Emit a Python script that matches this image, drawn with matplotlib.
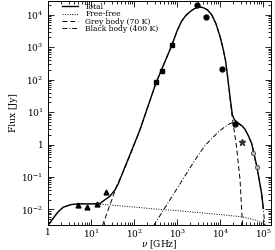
import numpy as np
import matplotlib
matplotlib.use("Agg")
import matplotlib.pyplot as plt
from matplotlib.ticker import LogLocator, FuncFormatter, NullFormatter

plt.rcParams['font.family'] = ['DejaVu Serif']
plt.rcParams['mathtext.fontset'] = 'dejavuserif'

# model curves, as log10(nu/GHz), log10(F/Jy)
total_lognu = [0.0, 0.116, 0.233, 0.35, 0.54, 0.7, 1.0, 1.2, 1.28, 1.43, 1.55, 1.63, 1.78, 1.94,
               2.13, 2.505, 2.87, 3.0, 3.1, 3.2, 3.3, 3.4, 3.5, 3.6, 3.7, 3.8, 3.9, 4.0, 4.07,
               4.12, 4.16, 4.2, 4.23, 4.28, 4.33, 4.40, 4.50, 4.57, 4.65, 4.73, 4.85, 4.96, 5.0]
total_logF = [-2.48, -2.27, -2.07, -1.93, -1.85, -1.83, -1.83, -1.82, -1.74, -1.6, -1.4, -1.2,
              -0.7, -0.18, 0.45, 1.9, 3.05, 3.52, 3.80, 3.98, 4.10, 4.19, 4.24, 4.22, 4.15, 4.0,
              3.72, 3.3, 2.92, 2.6, 2.2, 1.75, 1.42, 0.92, 0.76, 0.68, 0.58, 0.48, 0.28, 0.03,
              -0.68, -1.5, -1.97]

ff_lognu = [0.0, 0.116, 0.233, 0.35, 0.54, 0.7, 1.0, 1.5, 2.0, 2.5, 3.0, 3.5, 4.0, 4.5, 4.8, 5.0, 5.05]
ff_logF = [-2.48, -2.27, -2.07, -1.93, -1.85, -1.83, -1.83, -1.87, -1.93, -1.99, -2.04, -2.1,
           -2.16, -2.23, -2.32, -2.43, -2.5]

grey_lognu = [1.26, 1.5, 1.59, 1.78, 1.94, 2.13, 2.505, 2.87, 3.0, 3.1, 3.2, 3.3, 3.4, 3.5, 3.6,
              3.7, 3.8, 3.9, 4.0, 4.07, 4.12, 4.16, 4.2, 4.23, 4.28, 4.32, 4.38, 4.46, 4.50, 4.52]
grey_logF = [-2.5, -1.62, -1.28, -0.73, -0.2, 0.44, 1.9, 3.05, 3.52, 3.80, 3.98, 4.10, 4.19,
             4.24, 4.22, 4.15, 4.0, 3.72, 3.3, 2.92, 2.6, 2.2, 1.75, 1.38, 0.82, 0.45, -0.1,
             -1.1, -2.1, -2.5]

bb_lognu = [2.45, 2.95, 3.41, 3.64, 3.80, 3.95, 4.11, 4.22, 4.30, 4.40, 4.50, 4.57, 4.65, 4.73,
            4.85, 4.96, 5.0, 5.04]
bb_logF = [-2.5, -1.45, -0.48, -0.04, 0.18, 0.38, 0.55, 0.64, 0.68, 0.66, 0.57, 0.47, 0.27,
           0.02, -0.7, -1.52, -2.0, -2.5]

# observed points
tri_nu = [4.8, 7.8, 13.8, 22.0]
tri_F = [0.0135, 0.012, 0.0145, 0.034]
sq_nu = [320, 434, 741]
sq_F = [87, 190, 1170]
circ_nu = [2830, 4580, 10800, 21900]
circ_F = [19400, 8500, 215, 4.4]
star_nu = [32800]
star_F = [1.16]
open_nu = [58500, 72500]
open_F = [0.56, 0.2]


def pw(a):
    return np.power(10.0, np.array(a))


fig = plt.figure(figsize=(2.75, 2.5), dpi=100)
ax = fig.add_axes([0.1756, 0.1, 0.8094, 0.897])

ax.plot(pw(total_lognu), pw(total_logF), color='black', lw=1.0, ls='-', label='Total')
ax.plot(pw(ff_lognu), pw(ff_logF), color='black', lw=0.7, ls=(0, (1, 1.5)), label='Free-free')
ax.plot(pw(grey_lognu), pw(grey_logF), color='black', lw=0.7, ls=(0, (5, 3)), label='Grey body (70 K)')
ax.plot(pw(bb_lognu), pw(bb_logF), color='black', lw=0.7, ls=(0, (5, 2, 1, 2)), label='Black body (400 K)')

ax.plot(tri_nu, tri_F, ls='none', marker='^', ms=3.5, color='black')
ax.plot(sq_nu, sq_F, ls='none', marker='s', ms=3.2, color='black')
ax.plot(circ_nu, circ_F, ls='none', marker='o', ms=3.5, color='black')
ax.plot(star_nu, star_F, ls='none', marker='*', ms=4.5, color='#333333')
ax.plot(open_nu, open_F, ls='none', marker='o', ms=3, mfc='#bbbbbb', mec='#444444', mew=0.6)

ax.set_xscale('log')
ax.set_yscale('log')
ax.set_xlim(1, 1.5e5)
ax.set_ylim(3.3e-3, 2.7e4)


def fmt(v, pos):
    e = int(round(np.log10(v)))
    if e == 0:
        return '1'
    return r'$10^{%d}$' % e


ax.xaxis.set_major_locator(LogLocator(base=10, numticks=10))
ax.yaxis.set_major_locator(LogLocator(base=10, numticks=12))
ax.xaxis.set_minor_locator(LogLocator(base=10, subs=np.arange(2, 10), numticks=12))
ax.yaxis.set_minor_locator(LogLocator(base=10, subs=np.arange(2, 10), numticks=12))
ax.xaxis.set_major_formatter(FuncFormatter(fmt))
ax.yaxis.set_major_formatter(FuncFormatter(fmt))
ax.xaxis.set_minor_formatter(NullFormatter())
ax.yaxis.set_minor_formatter(NullFormatter())
ax.tick_params(which='both', direction='in', top=True, right=True, labelsize=6.5, width=0.6)
ax.tick_params(axis='x', which='major', pad=2)
ax.tick_params(which='major', length=4)
ax.tick_params(which='minor', length=2)
for s in ax.spines.values():
    s.set_linewidth(0.7)

ax.set_xlabel(r'$\nu$ [GHz]', fontsize=6.5, labelpad=-1)
ax.set_ylabel('Flux [Jy]', fontsize=6.5, labelpad=2)

ax.legend(loc='upper left', bbox_to_anchor=(0.06, 0.99), frameon=False, fontsize=5.5,
          handlelength=2.2, handletextpad=0.9, labelspacing=-0.08, borderpad=0,
          borderaxespad=0)

fig.savefig('out.png', dpi=100)
